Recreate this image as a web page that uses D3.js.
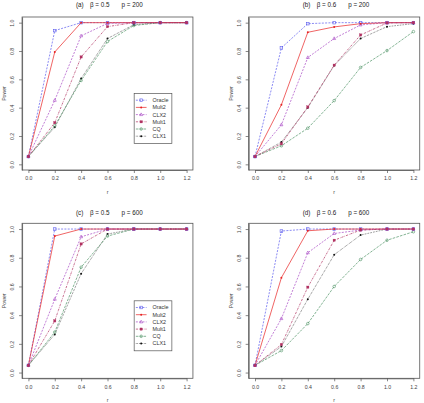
<!DOCTYPE html>
<html>
<head>
<meta charset="utf-8">
<script src="https://cdn.jsdelivr.net/npm/d3@7"></script>
<style>
  body { margin: 0; background: #fff; }
  svg { display: block; font-family: "Liberation Sans", Arial, sans-serif; }
</style>
</head>
<body>
<svg width="424" height="403"></svg>
<script>
// r grid shared by all four panels
var rValues = [0, 0.2, 0.4, 0.6, 0.8, 1.0, 1.2];
var methods = ["Oracle", "Mult2", "CLX2", "Mult1", "CQ", "CLX1"];
var yTicks = [0, 0.2, 0.4, 0.6, 0.8, 1.0];

// power values, one row per method (same order as methods)
var powerA = [
  [0.055, 0.944, 1.0, 1.0, 1.0, 1.0, 1.0],
  [0.055, 0.793, 1.0, 1.0, 1.0, 1.0, 1.0],
  [0.055, 0.452, 0.907, 0.995, 1.0, 1.0, 1.0],
  [0.055, 0.294, 0.758, 0.972, 1.0, 1.0, 1.0],
  [0.055, 0.272, 0.592, 0.867, 0.980, 1.0, 1.0],
  [0.055, 0.262, 0.606, 0.888, 0.986, 1.0, 1.0]
];
var powerB = [
  [0.055, 0.822, 0.993, 1.0, 1.0, 1.0, 1.0],
  [0.055, 0.420, 0.932, 0.970, 0.993, 1.0, 1.0],
  [0.055, 0.279, 0.754, 0.888, 0.984, 1.0, 1.0],
  [0.055, 0.145, 0.405, 0.700, 0.913, 0.998, 1.0],
  [0.055, 0.131, 0.255, 0.450, 0.684, 0.803, 0.937],
  [0.055, 0.157, 0.400, 0.698, 0.888, 0.972, 0.993]
];
var powerC = [
  [0.05, 1.0, 1.0, 1.0, 1.0, 1.0, 1.0],
  [0.05, 0.951, 1.0, 1.0, 1.0, 1.0, 1.0],
  [0.05, 0.511, 0.946, 1.0, 1.0, 1.0, 1.0],
  [0.05, 0.360, 0.896, 1.0, 1.0, 1.0, 1.0],
  [0.05, 0.282, 0.734, 0.951, 1.0, 1.0, 1.0],
  [0.05, 0.266, 0.689, 0.965, 1.0, 1.0, 1.0]
];
var powerD = [
  [0.05, 0.986, 1.0, 1.0, 1.0, 1.0, 1.0],
  [0.05, 0.661, 0.988, 1.0, 1.0, 1.0, 1.0],
  [0.05, 0.376, 0.835, 0.969, 0.993, 1.0, 1.0],
  [0.05, 0.195, 0.595, 0.922, 0.993, 1.0, 1.0],
  [0.05, 0.153, 0.341, 0.600, 0.788, 0.922, 0.981],
  [0.05, 0.181, 0.511, 0.821, 0.958, 1.0, 1.0]
];

var panelLabels = ["(a)", "(b)", "(c)", "(d)"];
var betaLabels = ["\u03b2 = 0.5", "\u03b2 = 0.6", "\u03b2 = 0.5", "\u03b2 = 0.6"];
var pLabels = ["p = 200", "p = 200", "p = 600", "p = 600"];

// styles per method
var colors = ["#5a5aee", "#e82222", "#a848c4", "#b03060", "#4f9466", "#111111"];
var dashes = ["2,1.3", null, "2,1.3", "2.2,1,0.6,1", "2.6,1.2", "0.6,1"];
var shapes = ["square", "dot", "triangle", "fsquare", "circle", "dot"];
var drawOrder = [5, 4, 0, 2, 1, 3];

// panel placement
var layout = [
  {x0: 28.4, x1: 186.6, top: 17, bottom: 170, titleY: 7, legend: true},
  {x0: 255, x1: 413.4, top: 17, bottom: 170, titleY: 7, legend: false},
  {x0: 28.4, x1: 186.6, top: 223.3, bottom: 378.3, titleY: 215.3, legend: true},
  {x0: 255, x1: 413.4, top: 223.3, bottom: 378.3, titleY: 215.3, legend: false}
];
var allPower = [powerA, powerB, powerC, powerD];

var svg = d3.select("svg");

function drawMarker(g, shape, cx, cy, color) {
  if (shape == "square" || shape == "fsquare") {
    var s = shape == "fsquare" ? 2.3 : 2.6;
    g.append("rect")
      .attr("x", cx - s / 2).attr("y", cy - s / 2)
      .attr("width", s).attr("height", s)
      .attr("fill", shape == "fsquare" ? color : "none")
      .attr("stroke", color).attr("stroke-width", shape == "fsquare" ? 0.3 : 0.6);
  } else if (shape == "triangle") {
    g.append("path")
      .attr("d", "M" + cx + "," + (cy - 1.7) + "L" + (cx + 1.5) + "," + (cy + 1.0) + "L" + (cx - 1.5) + "," + (cy + 1.0) + "Z")
      .attr("fill", "none").attr("stroke", color).attr("stroke-width", 0.6);
  } else if (shape == "circle") {
    g.append("circle").attr("cx", cx).attr("cy", cy).attr("r", 1.3)
      .attr("fill", "none").attr("stroke", color).attr("stroke-width", 0.6);
  } else {
    g.append("circle").attr("cx", cx).attr("cy", cy).attr("r", 1.0)
      .attr("fill", color);
  }
}

layout.forEach(function(L, i) {
  var x = d3.scaleLinear().domain([0, 1.2]).range([L.x0, L.x1]);
  var y = d3.scaleLinear().domain([-0.04, 1.04]).range([L.bottom, L.top]);
  var left = x(-0.048), right = x(1.248);
  var g = svg.append("g");

  // box
  g.append("rect")
    .attr("x", left).attr("y", L.top)
    .attr("width", right - left).attr("height", L.bottom - L.top)
    .attr("fill", "none").attr("stroke", "#555").attr("stroke-width", 0.8);

  // axes
  var xAxis = g.append("g")
    .attr("transform", "translate(0," + L.bottom + ")")
    .call(d3.axisBottom(x).tickValues(rValues).tickFormat(d3.format(".1f"))
      .tickSize(3).tickPadding(3.6).tickSizeOuter(0));
  var yAxis = g.append("g")
    .attr("transform", "translate(" + left + ",0)")
    .call(d3.axisLeft(y).tickValues(yTicks).tickFormat(d3.format(".1f"))
      .tickSize(3).tickSizeOuter(0));

  [xAxis, yAxis].forEach(function(a) {
    a.select(".domain").attr("stroke", "#555").attr("stroke-width", 0.8);
    a.selectAll(".tick line").attr("stroke", "#555").attr("stroke-width", 0.7);
    a.selectAll(".tick text").attr("font-size", 5.2).attr("fill", "#444")
      .attr("font-family", "Liberation Sans, Arial, sans-serif");
  });
  yAxis.selectAll(".tick text")
    .attr("x", 0).attr("dy", 0)
    .attr("text-anchor", "middle")
    .attr("transform", "translate(-7.6,0) rotate(-90)");

  // axis titles
  g.append("text")
    .attr("x", (left + right) / 2).attr("y", L.bottom + 23.5)
    .attr("text-anchor", "middle").attr("font-size", 5.2).attr("fill", "#444")
    .text("r");
  var midY = (L.top + L.bottom) / 2;
  g.append("text")
    .attr("transform", "translate(" + (left - 16) + "," + midY + ") rotate(-90)")
    .attr("text-anchor", "middle").attr("font-size", 5.2).attr("fill", "#444")
    .text("Power");

  // title
  var cx = (left + right) / 2;
  [[panelLabels[i], -31.5], [betaLabels[i], -17.5], [pLabels[i], 14]].forEach(function(t) {
    g.append("text")
      .attr("x", cx + t[1]).attr("y", L.titleY)
      .attr("font-size", 6.3).attr("fill", "#222")
      .text(t[0]);
  });

  // series
  var line = d3.line()
    .x(function(d, j) { return x(rValues[j]); })
    .y(function(d) { return y(d); });
  var power = allPower[i];
  drawOrder.forEach(function(m) {
    g.append("path")
      .datum(power[m])
      .attr("d", line)
      .attr("fill", "none")
      .attr("stroke", colors[m])
      .attr("stroke-width", 0.7)
      .attr("stroke-dasharray", dashes[m]);
  });
  drawOrder.forEach(function(m) {
    power[m].forEach(function(v, j) {
      drawMarker(g, shapes[m], x(rValues[j]), y(v), colors[m]);
    });
  });

  // legend
  if (L.legend) {
    var lx = x(0.8) + 0.3, ly = y(0.5);
    var lg = g.append("g").attr("transform", "translate(" + lx + "," + ly + ")");
    lg.append("rect")
      .attr("width", 37.7).attr("height", 50)
      .attr("fill", "#fff").attr("stroke", "#555").attr("stroke-width", 0.7);
    methods.forEach(function(name, m) {
      var ry = 6.7 + m * 7.2;
      lg.append("line")
        .attr("x1", 1.7).attr("x2", 12.4).attr("y1", ry).attr("y2", ry)
        .attr("stroke", colors[m]).attr("stroke-width", 0.7)
        .attr("stroke-dasharray", dashes[m]);
      drawMarker(lg, shapes[m], 7, ry, colors[m]);
      lg.append("text")
        .attr("x", 18.4).attr("y", ry + 1.9)
        .attr("font-size", 5.4).attr("fill", "#333")
        .text(name);
    });
  }
});
</script>
</body>
</html>
